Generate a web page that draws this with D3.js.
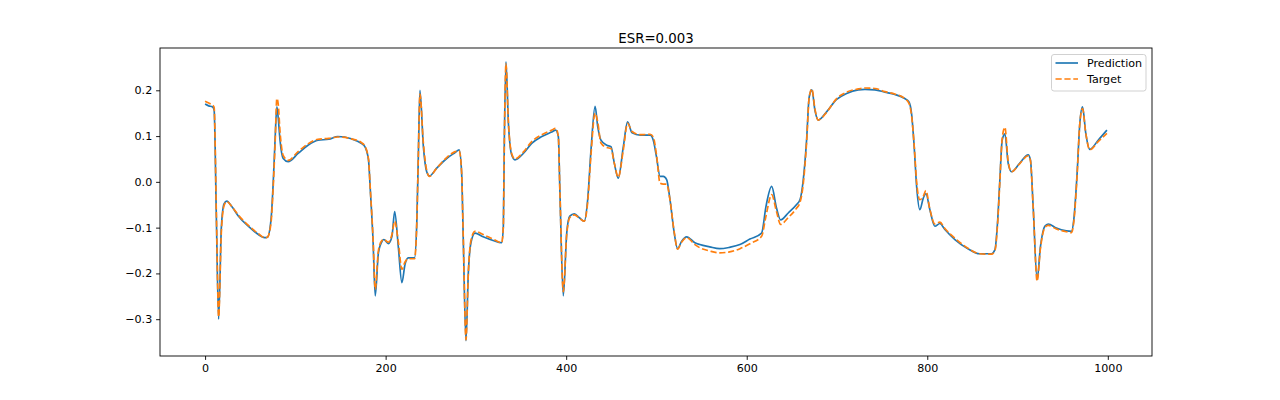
<!DOCTYPE html>
<html><head><meta charset="utf-8">
<script src="https://cdn.jsdelivr.net/npm/d3@7"></script>
<style>body{margin:0;background:#fff}svg{display:block}text{font-family:"DejaVu Sans",sans-serif;fill:#000}</style>
</head><body>
<script>
const title = "ESR=0.003";
const seriesNames = ["Prediction", "Target"];
const xTicks = [0, 200, 400, 600, 800, 1000];
const yTicks = [-0.3, -0.2, -0.1, 0.0, 0.1, 0.2];
const sampleIndex = [0,4,8,10,12.5,15,18,21,24,30,37,48,59,66,69,73,75.5,77.5,79.5,81,83,86.5,92,103,114,125,137,147,162,173,177,181,183,186,188.5,192,196,198,203,207,210,214,218,221.5,225,232,234.5,236.2,238,241.8,245.5,248.5,256.6,267.6,277,281.5,284.2,286,289,291.6,294.5,299,308,319,328.5,330.4,331.5,333.3,336,339.6,343.3,352.5,361.8,373,384,388.4,391.3,393,396.8,400.6,404,409,415,420,423.8,427.5,432,435,438.5,445,449.6,453.3,457.7,463.3,468,473,482,493,496.5,500,504,507.6,511.3,515,519.7,523.4,527.8,533.4,542.6,548,559,570,581,592.5,603.5,616.5,621.3,627.6,633,637.5,646,655,659,662.6,666.3,669.2,672.2,675.5,679.2,688.5,699.6,710.6,723.5,731,742,753,764,775,779.6,782.6,785.5,788.2,791.8,795.5,798.5,802.9,808.4,814,819.5,830.6,845,858,871,875,877.8,880.4,883,886,889.6,893.3,902.5,911.8,914.3,917.3,921.7,925.4,930.2,934,943,954,959.8,962.3,966,969,972,975.6,980,989.3,999];
const prediction = [0.170,0.166,0.164,0.157,-0.08,-0.300,-0.100,-0.048,-0.042,-0.055,-0.075,-0.097,-0.115,-0.122,-0.121,-0.083,0.000,0.091,0.164,0.140,0.091,0.051,0.044,0.062,0.080,0.091,0.093,0.099,0.094,0.084,0.077,0.048,-0.017,-0.126,-0.249,-0.155,-0.130,-0.126,-0.135,-0.119,-0.065,-0.141,-0.220,-0.180,-0.166,-0.166,-0.090,0.055,0.200,0.077,0.022,0.013,0.030,0.051,0.064,0.070,0.019,-0.126,-0.347,-0.199,-0.133,-0.112,-0.120,-0.128,-0.133,-0.097,0.091,0.262,0.128,0.059,0.048,0.062,0.084,0.099,0.109,0.113,0.099,-0.017,-0.249,-0.112,-0.075,-0.070,-0.079,-0.086,-0.039,0.070,0.165,0.120,0.091,0.080,0.077,0.041,0.008,0.077,0.131,0.107,0.102,0.102,0.091,0.055,0.012,0.012,0.005,-0.039,-0.112,-0.146,-0.130,-0.120,-0.133,-0.137,-0.142,-0.146,-0.143,-0.137,-0.125,-0.112,-0.054,-0.010,-0.057,-0.083,-0.068,-0.050,-0.039,0.004,0.091,0.185,0.201,0.157,0.135,0.153,0.180,0.193,0.201,0.202,0.201,0.196,0.191,0.182,0.175,0.149,0.077,-0.010,-0.061,-0.036,-0.026,-0.061,-0.097,-0.091,-0.104,-0.126,-0.146,-0.157,-0.157,-0.148,-0.090,0.004,0.091,0.105,0.041,0.022,0.041,0.059,0.048,-0.054,-0.213,-0.141,-0.097,-0.092,-0.101,-0.107,-0.108,-0.083,0.019,0.128,0.164,0.106,0.071,0.091,0.113];
const target = [0.176,0.172,0.168,0.163,-0.07,-0.295,-0.110,-0.052,-0.043,-0.055,-0.073,-0.095,-0.113,-0.122,-0.121,-0.090,-0.010,0.080,0.182,0.170,0.110,0.058,0.047,0.066,0.083,0.093,0.095,0.098,0.094,0.086,0.078,0.050,-0.015,-0.120,-0.235,-0.150,-0.128,-0.126,-0.132,-0.115,-0.086,-0.130,-0.191,-0.175,-0.168,-0.168,-0.090,0.055,0.192,0.085,0.025,0.012,0.030,0.053,0.066,0.068,0.020,-0.120,-0.345,-0.200,-0.128,-0.108,-0.115,-0.125,-0.133,-0.097,0.091,0.258,0.130,0.062,0.050,0.065,0.088,0.103,0.113,0.117,0.100,-0.017,-0.240,-0.115,-0.078,-0.072,-0.080,-0.086,-0.045,0.060,0.150,0.130,0.085,0.075,0.073,0.041,0.010,0.070,0.128,0.110,0.103,0.104,0.098,0.060,-0.003,-0.005,-0.005,-0.039,-0.110,-0.147,-0.132,-0.122,-0.137,-0.144,-0.151,-0.155,-0.153,-0.146,-0.135,-0.119,-0.075,-0.028,-0.065,-0.093,-0.078,-0.058,-0.045,-0.005,0.085,0.185,0.203,0.160,0.135,0.152,0.182,0.196,0.203,0.205,0.204,0.197,0.192,0.182,0.172,0.145,0.080,0.000,-0.039,-0.032,-0.019,-0.060,-0.092,-0.088,-0.102,-0.123,-0.145,-0.157,-0.158,-0.150,-0.095,0.000,0.095,0.119,0.045,0.022,0.040,0.057,0.046,-0.054,-0.217,-0.145,-0.100,-0.095,-0.103,-0.109,-0.111,-0.088,0.015,0.128,0.160,0.106,0.070,0.088,0.106];

const W = 1280, H = 400;
const m = {left: 160, right: 1152, top: 48, bottom: 356};
const svg = d3.select("body").append("svg").attr("width", W).attr("height", H);

const x = d3.scaleLinear().domain([-49.95, 1048.95]).range([m.left, m.right]);
const y = d3.scaleLinear().domain([-0.3804, 0.2924]).range([m.bottom, m.top]);

const fmtY = v => (v < 0 ? "\u2212" : "") + Math.abs(v).toFixed(1);
const lw = 1.67, dash = "6.2,2.7";

const gx = svg.append("g").attr("transform", `translate(0,${m.bottom})`)
  .call(d3.axisBottom(x).tickValues(xTicks).tickSize(3.9).tickPadding(3.9).tickFormat(d3.format("d")));
const gy = svg.append("g").attr("transform", `translate(${m.left},0)`)
  .call(d3.axisLeft(y).tickValues(yTicks).tickSize(3.9).tickPadding(3.9).tickFormat(fmtY));
[gx, gy].forEach(g => {
  g.select(".domain").remove();
  g.selectAll(".tick line").attr("stroke", "#000").attr("stroke-width", 0.9);
  g.selectAll(".tick text").attr("font-size", "11.1px").attr("font-family", "DejaVu Sans").attr("fill", "#000");
});

svg.append("clipPath").attr("id", "clip").append("rect")
  .attr("x", m.left).attr("y", m.top).attr("width", m.right - m.left).attr("height", m.bottom - m.top);

const line = d3.line().x(d => x(d[0])).y(d => y(d[1])).curve(d3.curveMonotoneX);
const predData = sampleIndex.map((v, i) => [v, prediction[i]]);
const targData = sampleIndex.map((v, i) => [v, target[i]]);

const plot = svg.append("g").attr("clip-path", "url(#clip)");
plot.append("path").datum(predData).attr("d", line).attr("fill", "none")
  .attr("stroke", "#1f77b4").attr("stroke-width", lw).attr("stroke-linejoin", "round");
plot.append("path").datum(targData).attr("d", line).attr("fill", "none")
  .attr("stroke", "#ff7f0e").attr("stroke-width", lw).attr("stroke-dasharray", dash);

svg.append("rect").attr("x", m.left).attr("y", m.top).attr("width", m.right - m.left).attr("height", m.bottom - m.top)
  .attr("fill", "none").attr("stroke", "#000").attr("stroke-width", 0.9);

svg.append("text").attr("x", (m.left + m.right) / 2).attr("y", 42.5).attr("text-anchor", "middle")
  .attr("font-size", "13.33px").text(title);

// legend
const lg = svg.append("g");
lg.append("rect").attr("x", 1051.5).attr("y", 54.5).attr("width", 94.5).attr("height", 36.5).attr("rx", 2.5)
  .attr("fill", "#fff").attr("fill-opacity", 0.8).attr("stroke", "#cccccc").attr("stroke-width", 0.9);
const colors = ["#1f77b4", "#ff7f0e"];
seriesNames.forEach((name, i) => {
  const yy = 63 + i * 16;
  lg.append("line").attr("x1", 1055.5).attr("x2", 1078).attr("y1", yy).attr("y2", yy)
    .attr("stroke", colors[i]).attr("stroke-width", lw).attr("stroke-dasharray", i === 1 ? dash : null);
  lg.append("text").attr("x", 1087).attr("y", yy).attr("dy", "0.36em").attr("font-size", "11.1px").text(name);
});
</script>
</body></html>
